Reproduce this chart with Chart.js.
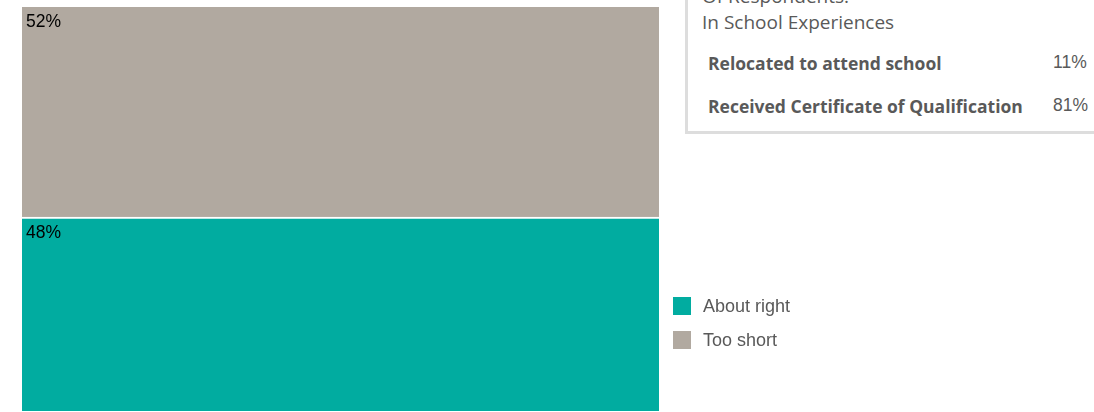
<!DOCTYPE html>
<html>
<head>
<meta charset="utf-8">
<script src="https://cdn.jsdelivr.net/npm/chart.js@4/dist/chart.umd.min.js"></script>
<style>
  html, body { margin: 0; padding: 0; background: #fff; overflow: hidden; }
  #wrap { position: relative; width: 1094px; height: 412px; }
  canvas { position: absolute; left: 0; top: 0; }
  #info {
    position: absolute; left: 685px; top: -60px; width: 440px; height: 188px;
    border: 3px solid #dddddd; background: #fff; box-sizing: content-box;
    font-family: "Open Sans", "Noto Sans", sans-serif; color: #595959;
  }
  #info .t { position: absolute; left: 14px; font-size: 19px; line-height: 26px; white-space: nowrap; }
  #info .r { position: absolute; left: 20px; font-size: 17.5px; line-height: 24px; font-weight: bold; white-space: nowrap; }
  #info .v { position: absolute; left: 365px; font-family: "Liberation Sans", Arial, sans-serif; font-size: 17.5px; line-height: 20px; white-space: nowrap; }
</style>
</head>
<body>
<div id="wrap">
  <canvas id="c" width="1094" height="412"></canvas>
  <div id="info"></div>
</div>
<script>
const categories = ["Length of program"];
const seriesNames = ["About right", "Too short"];
const aboutRight = [48];
const tooShort = [52];
const seriesColors = ["#01ACA0", "#B1A9A0"];
const infoTitles = ["Of Respondents:", "In School Experiences"];
const infoRows = ["Relocated to attend school", "Received Certificate of Qualification"];
const infoValues = ["11%", "81%"];

// Info panel (real text)
const info = document.getElementById('info');
const titleTops = [40, 66];
infoTitles.forEach((t, i) => {
  const d = document.createElement('div');
  d.className = 't'; d.textContent = t; d.style.top = titleTops[i] + 'px';
  info.appendChild(d);
});
const rowTops = [108, 151];
infoRows.forEach((t, i) => {
  const d = document.createElement('div');
  d.className = 'r'; d.textContent = t; d.style.top = rowTops[i] + 'px';
  info.appendChild(d);
  const v = document.createElement('div');
  v.className = 'v'; v.textContent = infoValues[i]; v.style.top = (rowTops[i] + 1) + 'px';
  info.appendChild(v);
});

const labelPlugin = {
  id: 'segLabels',
  afterDatasetsDraw(chart) {
    const ctx = chart.ctx;
    ctx.save();
    ctx.font = '17.5px "Liberation Sans", Arial, sans-serif';
    ctx.fillStyle = '#000';
    ctx.textBaseline = 'top';
    ctx.textAlign = 'left';
    chart.data.datasets.forEach((ds, di) => {
      const meta = chart.getDatasetMeta(di);
      meta.data.forEach((el, i) => {
        const left = el.x - el.width / 2;
        const top = Math.min(el.y, el.base);
        ctx.fillText(ds.data[i] + '%', left + 4, top + 6 + (di === 0 ? 1 : 0));
      });
    });
    ctx.restore();
  }
};

const legendPlugin = {
  id: 'customLegend',
  afterDraw(chart) {
    const ctx = chart.ctx;
    ctx.save();
    ctx.font = '18px "Liberation Sans", Arial, sans-serif';
    ctx.textBaseline = 'middle';
    ctx.textAlign = 'left';
    chart.data.datasets.forEach((ds, i) => {
      const y = 297 + i * 34;
      ctx.fillStyle = ds.backgroundColor;
      ctx.fillRect(673, y, 18, 18);
      ctx.fillStyle = '#595959';
      ctx.fillText(ds.label, 703, y + 10);
    });
    ctx.restore();
  }
};

new Chart(document.getElementById('c'), {
  type: 'bar',
  data: {
    labels: categories,
    datasets: [
      { label: seriesNames[0], data: aboutRight, backgroundColor: seriesColors[0],
        borderColor: '#ffffff', borderWidth: { top: 2, left: 0, right: 0, bottom: 0 }, borderSkipped: false },
      { label: seriesNames[1], data: tooShort, backgroundColor: seriesColors[1], borderWidth: 0 }
    ]
  },
  options: {
    responsive: false,
    animation: false,
    layout: { padding: { left: 22, right: 435, top: 7, bottom: 1 } },
    datasets: { bar: { barPercentage: 1, categoryPercentage: 1 } },
    scales: {
      x: { display: false, stacked: true },
      y: { display: false, stacked: true, min: 0, max: 100 }
    },
    plugins: { legend: { display: false }, tooltip: { enabled: false } }
  },
  plugins: [labelPlugin, legendPlugin]
});
</script>
</body>
</html>
